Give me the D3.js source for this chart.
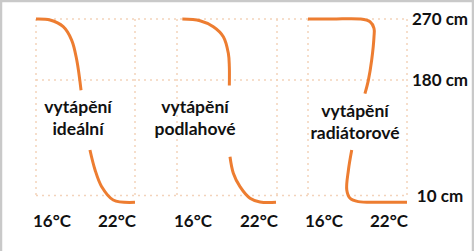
<!DOCTYPE html>
<html>
<head>
<meta charset="utf-8">
<script src="https://cdn.jsdelivr.net/npm/d3@7"></script>
<style>
  body { margin: 0; background: #fff; }
  svg text { font-family: Lato, "Open Sans", sans-serif; font-weight: bold; fill: #111; }
</style>
</head>
<body>
<div id="chart"></div>
<script>

// heights in cm shown on the right
var heightTicks = [270, 180, 10];
var heightLabels = ["270 cm", "180 cm", "10 cm"];

// temperature range of every panel
var tempTicks = [16, 22];
var tempLabels = ["16°C", "22°C"];

var panelNames = [["vytápění", "ideální"], ["vytápění", "podlahové"], ["vytápění", "radiátorové"]];

// [temperature °C, height cm], null = gap where the label sits
var idealCurve = [
    [16, 270], [16.85, 268.5], [17.65, 258.7], [18.16, 239], [18.47, 209.6], [18.73, 165],
    null,
    [19.27, 77], [19.58, 47.6], [19.98, 23], [20.68, 3.4], [22, 0]
];
var floorCurve = [
    [16.32, 270], [17.38, 267.5], [18.18, 258.7], [18.78, 244], [19.08, 219.5], [19.14, 199.7], [19.14, 172],
    null,
    [19.18, 67], [19.38, 42.8], [19.78, 23], [20.38, 6], [20.98, 0.5], [21.94, 0]
];
var radiatorCurve = [
    [16, 270], [17.5, 270], [19.15, 270], [19.76, 266], [20.0, 256.3], [20.0, 244], [19.86, 209.6], [19.66, 180], [19.45, 160],
    null,
    [18.65, 77], [18.45, 47.6], [18.35, 18.2], [18.55, 6], [19.05, 1], [20.5, 0], [22, 0]
];
var curves = [idealCurve, floorCurve, radiatorCurve];


var width = 474, height = 251;

var svg = d3.select("#chart").append("svg")
    .attr("width", width)
    .attr("height", height);

// light frame like the screenshot
svg.append("rect")
    .attr("x", 1).attr("y", 1)
    .attr("width", width - 2).attr("height", height + 4)
    .attr("fill", "none")
    .attr("stroke", "#c9c9c9")
    .attr("stroke-width", 2.5);

var y = d3.scaleLinear().domain([10, 270]).range([195.5, 19]);

// each panel has its own temperature scale
var panelRanges = [[36, 135], [177, 277], [308, 407]];
var labelTemps = [18.55, 17.08, 18.85];

var gridColor = "#f3d3bb";

// horizontal grid lines run across all panels
svg.selectAll(".hgrid")
    .data(heightTicks)
  .enter().append("line")
    .attr("class", "hgrid")
    .attr("x1", panelRanges[0][0])
    .attr("x2", panelRanges[2][1])
    .attr("y1", function (d) { return y(d); })
    .attr("y2", function (d) { return y(d); })
    .attr("stroke", gridColor)
    .attr("stroke-width", 1.5)
    .attr("stroke-dasharray", "2,4");

var line = d3.line()
    .defined(function (d) { return d !== null; })
    .curve(d3.curveCatmullRom.alpha(0.5));

panelRanges.forEach(function (range, i) {
    var x = d3.scaleLinear().domain([16, 22]).range(range);

    svg.selectAll(".vgrid" + i)
        .data(tempTicks)
      .enter().append("line")
        .attr("x1", function (d) { return x(d); })
        .attr("x2", function (d) { return x(d); })
        .attr("y1", y(270))
        .attr("y2", y(10))
        .attr("stroke", gridColor)
        .attr("stroke-width", 1.5)
        .attr("stroke-dasharray", "2,4");

    line.x(function (d) { return x(d[0]); })
        .y(function (d) { return y(d[1]); });

    svg.append("path")
        .datum(curves[i])
        .attr("d", line)
        .attr("fill", "none")
        .attr("stroke", "#ed7d31")
        .attr("stroke-width", 3)
        .attr("stroke-linecap", "butt");

    svg.selectAll(".tlab" + i)
        .data(tempTicks)
      .enter().append("text")
        .attr("x", function (d, j) { return j == 0 ? x(d) - 3 : x(d) + 1; })
        .attr("y", 227)
        .attr("text-anchor", function (d, j) { return j == 0 ? "start" : "end"; })
        .attr("font-size", 17)
        .text(function (d, j) { return tempLabels[j]; });

    var name = svg.append("text")
        .attr("x", x(labelTemps[i]))
        .attr("y", i == 2 ? 117 : 113)
        .attr("text-anchor", "middle")
        .attr("font-size", 17.5);
    name.selectAll("tspan")
        .data(panelNames[i])
      .enter().append("tspan")
        .attr("x", x(labelTemps[i]))
        .attr("dy", function (d, j) { return j == 0 ? 0 : 22; })
        .text(function (d) { return d; });
});

// height labels on the right
svg.selectAll(".hlab")
    .data(heightTicks)
  .enter().append("text")
    .attr("x", 440)
    .attr("y", function (d) { return y(d) + 6; })
    .attr("text-anchor", "middle")
    .attr("font-size", 17)
    .text(function (d, i) { return heightLabels[i]; });

</script>
</body>
</html>
